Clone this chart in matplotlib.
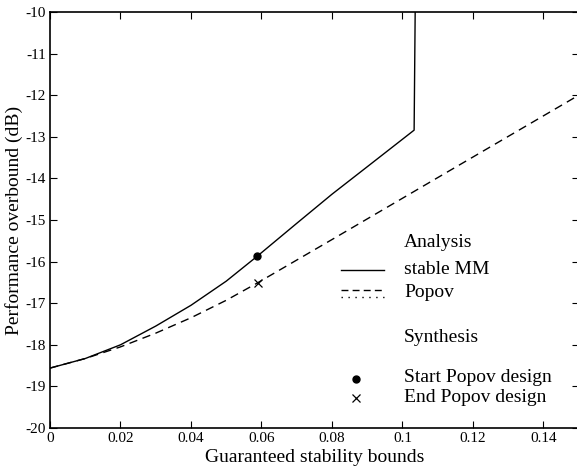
import matplotlib
matplotlib.use("Agg")
import matplotlib.pyplot as plt

plt.rcParams['font.family'] = ['Liberation Serif', 'DejaVu Serif']
plt.rcParams['axes.unicode_minus'] = False

# curves
mm_x = [0.0, 0.01, 0.02, 0.03, 0.04, 0.05, 0.0588, 0.07, 0.08, 0.09, 0.1033, 0.1036]
mm_y = [-18.56, -18.33, -18.0, -17.55, -17.05, -16.47, -15.87, -15.08, -14.38, -13.72, -12.84, -10.0]
popov_x = [0.0, 0.01, 0.02, 0.03, 0.04, 0.05, 0.0589, 0.08, 0.108, 0.15]
popov_y = [-18.56, -18.33, -18.05, -17.72, -17.35, -16.93, -16.51, -15.47, -14.08, -12.0]
start_pt = (0.0588, -15.87)
end_pt = (0.0589, -16.51)

xticks = [0, 0.02, 0.04, 0.06, 0.08, 0.1, 0.12, 0.14]
xtick_labels = ['0', '0.02', '0.04', '0.06', '0.08', '0.1', '0.12', '0.14']
yticks = list(range(-20, -9))

fig = plt.figure(figsize=(5.77, 4.75), dpi=100)
ax = fig.add_axes([50/577, 1 - 428/475, 1.003 - 50/577, (428 - 12)/475])

ax.plot(mm_x, mm_y, color='black', lw=1.0)
ax.plot(popov_x, popov_y, color='black', lw=1.0, dashes=(6, 4))
ax.plot(*start_pt, 'o', color='black', ms=5)
ax.plot(*end_pt, 'x', color='black', ms=6, mew=0.9)

ax.set_xlim(0, 0.15)
ax.set_ylim(-20, -10)
ax.set_xticks(xticks)
ax.set_xticklabels(xtick_labels)
ax.set_yticks(yticks)
ax.set_yticklabels([str(v) for v in yticks])
ax.tick_params(direction='in', top=True, right=True, length=5, width=0.8,
               labelsize=11, pad=3)
for s in ax.spines.values():
    s.set_linewidth(1.2)

ax.set_xlabel('Guaranteed stability bounds', fontsize=14, labelpad=3)
ax.set_ylabel('Performance overbound (dB)', fontsize=14, labelpad=2)

# hand-made legend, in axes coordinates
tr = ax.transAxes
def ax_xy(px, py):
    return ((px - 50) / 527, (428 - py) / 416)

fs = 14
ax.text(*ax_xy(403, 243), 'Analysis', transform=tr, fontsize=fs, va='center')
ax.text(*ax_xy(403, 270), 'stable MM', transform=tr, fontsize=fs, va='center')
ax.text(*ax_xy(403, 293), 'Popov', transform=tr, fontsize=fs, va='center')
ax.text(*ax_xy(403, 337), 'Synthesis', transform=tr, fontsize=fs, va='center')
ax.text(*ax_xy(403, 378), 'Start Popov design', transform=tr, fontsize=fs, va='center')
ax.text(*ax_xy(403, 397), 'End Popov design', transform=tr, fontsize=fs, va='center')

x0, y0 = ax_xy(340, 270)
x1, _ = ax_xy(383, 270)
ax.plot([x0, x1], [y0, y0], color='black', lw=1.0, transform=tr)
_, y1 = ax_xy(340, 290)
ax.plot([x0, x1], [y1, y1], color='black', lw=1.0, dashes=(5, 3), transform=tr)
_, y2 = ax_xy(340, 297)
ax.plot([x0, x1], [y2, y2], color='black', lw=1.0, dashes=(1, 4), transform=tr)
ax.plot(*ax_xy(355, 379), 'o', color='black', ms=5, transform=tr)
ax.plot(*ax_xy(355, 398), 'x', color='black', ms=6, mew=0.9, transform=tr)

fig.savefig('out.png', dpi=100)
